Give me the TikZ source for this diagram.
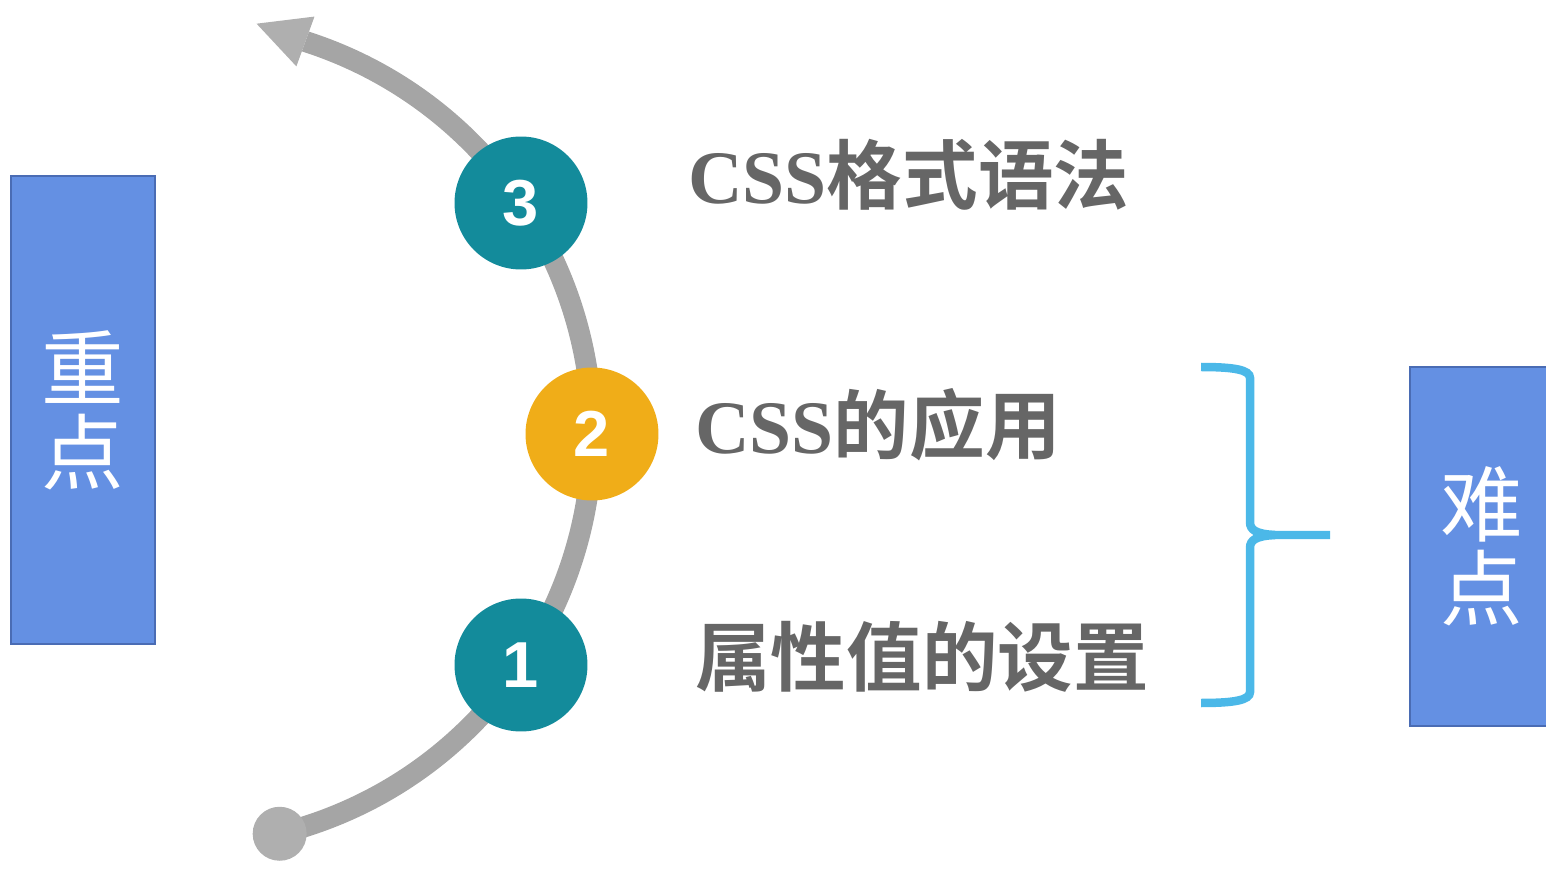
\documentclass[tikz,border=0pt]{standalone}
\usepackage{fontspec}
\setmainfont{Liberation Serif}
\setsansfont{Liberation Sans}
\newfontfamily\cjk{Noto Sans CJK SC}[BoldFont={Noto Sans CJK SC Bold}]
\usetikzlibrary{arrows.meta, backgrounds}

\definecolor{stepteal}{RGB}{19,139,155}
\definecolor{steporange}{RGB}{240,173,24}
\definecolor{trackgray}{RGB}{165,165,165}
\definecolor{dotgray}{RGB}{175,175,175}
\definecolor{boxblue}{RGB}{100,144,227}
\definecolor{boxline}{RGB}{74,108,180}
\definecolor{titlegray}{RGB}{102,102,102}
\definecolor{bracecyan}{RGB}{75,184,232}

\begin{document}
\begin{tikzpicture}
[x=0.02cm, y=0.02cm,
 bubble/.style={circle, minimum size=2.66cm, inner sep=0pt, text=white,
   font=\sffamily\bfseries\fontsize{37}{37}\selectfont},
 tailbubble/.style={circle, minimum size=1.08cm, inner sep=0pt, fill=dotgray},
 topic/.style={anchor=base west, inner sep=0pt, text=titlegray,
   font=\bfseries\fontsize{43}{50}\selectfont},
 sidebox/.style={draw=boxline, line width=0.04cm, fill=boxblue, minimum width=2.88cm,
   text=white, align=center, font=\cjk\fontsize{47}{48}\selectfont},
 track/.style={line width=0.42cm, draw=trackgray},
 bracepath/.style={draw=bracecyan, line width=0.17cm}]
\useasboundingbox (0,0) rectangle (1546,870);

\node [sidebox, minimum height=9.36cm] (keybox) at (83,460) {重\\点};
\node [sidebox, minimum height=7.18cm] (hardbox) at (1482,323.5) {难\\点};

\node [tailbubble] (tail) at ([shift={(180,436)}]-76:412) {};
\foreach \n/\x/\y/\c in {1/521/205/stepteal, 2/592/436/steporange, 3/521/667/stepteal}{
	\node [bubble, fill=\c] (step\n) at (\x,\y) {\n};
}
\begin{scope}[on background layer]
\draw [track, -{Triangle[width=1.06cm, length=1.04cm, line width=0pt, color=dotgray]}] (tail.center)
	arc [start angle=-76, end angle=72, radius=412] -- ++(160:54);
\end{scope}

\node [topic] (topic3) at (688,666) {CSS{\cjk 格式语法}};
\node [topic] (topic2) at (695,417) {CSS{\cjk 的应用}};
\node [topic] (topic1) at (695,185) {\cjk 属性值的设置};

\coordinate (bracetop) at (1201,503);
\coordinate (bracetip) at (1330,335);
\coordinate (bracebot) at (1201,167);
\draw [bracepath] (bracetop)
	.. controls (1235,503) and (1250,500) .. (1250,492) -- (1250,348)
	.. controls (1250,340) and (1256,336) .. (1275,335) -- (bracetip);
\draw [bracepath] (1275,335)
	.. controls (1256,334) and (1250,330) .. (1250,322) -- (1250,178)
	.. controls (1250,170) and (1235,167) .. (bracebot);
\end{tikzpicture}
\end{document}
